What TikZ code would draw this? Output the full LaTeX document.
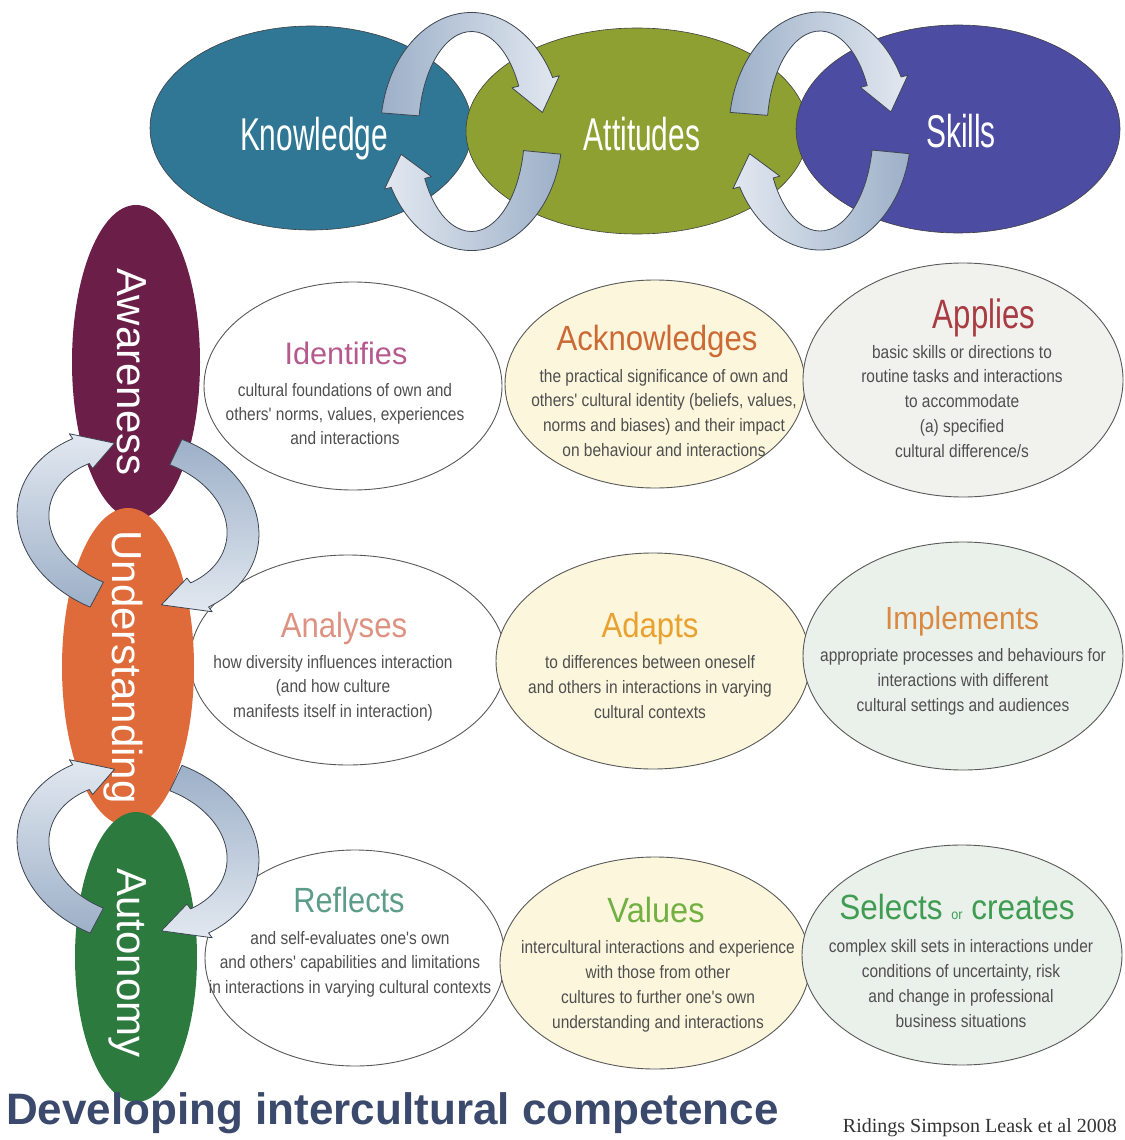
\documentclass[tikz,border=0pt]{standalone}
\usepackage{fontspec}
\usepackage{graphicx}
\setmainfont{Liberation Sans}
\newfontfamily\bodyfont[FakeStretch=0.86]{Liberation Sans}
\newfontfamily\citefont{Liberation Serif}
\usetikzlibrary{shapes.geometric}
\definecolor{knowc}{HTML}{2F7795}
\definecolor{attc}{HTML}{8EA032}
\definecolor{skillc}{HTML}{4C4CA2}
\definecolor{awc}{HTML}{6B1E47}
\definecolor{undc}{HTML}{DF6B3B}
\definecolor{autc}{HTML}{2D7A3F}
\definecolor{arrowdark}{HTML}{9DB0C8}
\definecolor{arrowlight}{HTML}{E2E8F0}
\definecolor{arrowline}{HTML}{3E4652}
\definecolor{bodyc}{HTML}{4F4F4F}
\definecolor{titlec}{HTML}{3B4A6C}
\definecolor{citec}{HTML}{333333}
\definecolor{identc}{HTML}{B65A8E}
\definecolor{ackc}{HTML}{CC6A36}
\definecolor{applc}{HTML}{A83C42}
\definecolor{analc}{HTML}{DE9282}
\definecolor{adapc}{HTML}{E9A130}
\definecolor{implc}{HTML}{D98A42}
\definecolor{reflc}{HTML}{5C9C88}
\definecolor{valc}{HTML}{72B043}
\definecolor{selc}{HTML}{3F9C52}
\definecolor{fillY}{HTML}{FBF6DC}
\definecolor{fillG}{HTML}{F1F2EE}
\definecolor{fillGG}{HTML}{EAF0EA}
\newcommand{\tbox}[3]{\fontsize{#1}{#1}\selectfont\scalebox{#2}[1]{#3}}
\newcommand{\blines}[2]{\fontsize{18}{#1}\selectfont\begin{tabular}[t]{@{}c@{}}#2\end{tabular}}
\newcommand{\cyclearrow}[8]{%
  \pgfmathsetmacro{\cyOx}{#1+#3}\pgfmathsetmacro{\cyOy}{#2+#4}%
  \pgfmathsetmacro{\cyIx}{#1-#3}\pgfmathsetmacro{\cyIy}{#2-#4}%
  \pgfmathsetmacro{\cyWOx}{#1+1.4*#3}\pgfmathsetmacro{\cyWOy}{#2+1.4*#4}%
  \pgfmathsetmacro{\cyWIx}{#1-1.4*#3}\pgfmathsetmacro{\cyWIy}{#2-1.4*#4}%
  \path[cyc, #8] (#5:{\cyOx} and {\cyOy})
    arc[start angle=#5, end angle=#6, x radius=\cyOx, y radius=\cyOy]
    -- (#6:{\cyWOx} and {\cyWOy})
    -- (#7:{#1} and {#2})
    -- (#6:{\cyWIx} and {\cyWIy})
    -- (#6:{\cyIx} and {\cyIy})
    arc[start angle=#6, end angle=#5, x radius=\cyIx, y radius=\cyIy]
    -- cycle;}
\tikzset{
  bigell/.style={ellipse, inner sep=0, draw=black!75, line width=0.6pt},
  vell/.style={ellipse, inner sep=0, draw=none},
  txtell/.style={ellipse, inner sep=0, draw=black!65, line width=0.9pt},
  cyc/.style={draw=arrowline, line width=0.8pt, line join=round},
  toplab/.style={anchor=base, inner sep=0, text=white},
  vlab/.style={anchor=base, inner sep=0, text=white, rotate=-90, font=\fontsize{42}{42}\selectfont},
  ttl/.style={anchor=base, inner sep=0},
  bodytxt/.style={anchor=base, inner sep=0, font=\bodyfont, text=bodyc},
}
\begin{document}
\begin{tikzpicture}[x=1pt, y=-1pt]
\fill[white] (0,0) rectangle (1124,1140);
\useasboundingbox (0,0) rectangle (1124,1140);

% top ellipses
\node[bigell, fill=knowc, minimum width=322, minimum height=204] (know) at (311,128) {};
\node[bigell, fill=attc, minimum width=342, minimum height=206] (att) at (637,131) {};
\node[bigell, fill=skillc, minimum width=324, minimum height=208] (skill) at (958,129) {};

% text ellipses
\node[txtell, fill=white, minimum width=298, minimum height=208] (eIdent) at (353,386) {};
\node[txtell, fill=fillY, minimum width=300, minimum height=208] (eAck) at (655,384) {};
\node[txtell, fill=fillG, minimum width=320, minimum height=234] (eAppl) at (963,380) {};
\node[txtell, fill=white, minimum width=316, minimum height=210] (eAnal) at (348,660) {};
\node[txtell, fill=fillY, minimum width=314, minimum height=216] (eAdap) at (653,661) {};
\node[txtell, fill=fillGG, minimum width=320, minimum height=228] (eImpl) at (963,656) {};
\node[txtell, fill=white, minimum width=300, minimum height=216] (eRefl) at (355,958) {};
\node[txtell, fill=fillY, minimum width=310, minimum height=212] (eVal) at (655,963) {};
\node[txtell, fill=fillGG, minimum width=320, minimum height=220] (eSel) at (962,955) {};

% vertical ellipses
\node[vell, fill=awc, minimum width=128, minimum height=314] (aware) at (136,362) {};
\node[vell, fill=undc, minimum width=132, minimum height=318] (under) at (128,667) {};
\node[vell, fill=autc, minimum width=122, minimum height=290] (auto) at (136,957) {};

% cycle arrows, top
\begin{scope}[shift={(471.5,131.5)}]
  \cyclearrow{72}{109.5}{19}{9.5}{189}{333}{350}{left color=arrowdark, right color=arrowlight}
  \cyclearrow{72}{109.5}{19}{9.5}{11}{152}{168}{left color=arrowlight, right color=arrowdark}
\end{scope}
\begin{scope}[shift={(820,131)}]
  \cyclearrow{72}{109.5}{19}{9.5}{189}{333}{350}{left color=arrowdark, right color=arrowlight}
  \cyclearrow{72}{109.5}{19}{9.5}{11}{152}{168}{left color=arrowlight, right color=arrowdark}
\end{scope}
% cycle arrows, left
\begin{scope}[shift={(138,524)}, rotate=-12]
  \cyclearrow{106}{80}{16}{14}{104}{228}{248}{top color=arrowlight, bottom color=arrowdark}
  \cyclearrow{106}{80}{16}{14}{282}{405}{428}{top color=arrowdark, bottom color=arrowlight}
\end{scope}
\begin{scope}[shift={(138,850)}, rotate=-12]
  \cyclearrow{106}{80}{16}{14}{104}{228}{248}{top color=arrowlight, bottom color=arrowdark}
  \cyclearrow{106}{80}{16}{14}{282}{405}{428}{top color=arrowdark, bottom color=arrowlight}
\end{scope}

% top labels
\node[toplab] (lKnow) at (314,150) {\tbox{46}{0.65}{Knowledge}};
\node[toplab] (lAtt) at (642,150) {\tbox{46}{0.65}{Attitudes}};
\node[toplab] (lSkill) at (961,147) {\tbox{46}{0.65}{Skills}};

% vertical labels
\node[vlab] (lAware) at (117,372) {Awareness};
\node[vlab] (lUnder) at (112,667) {Understanding};
\node[vlab] (lAuto) at (117,963) {Autonomy};

% titles and texts
\node[ttl, text=identc] (tIdent) at (346,364) {\tbox{31}{0.99}{Identifies}};
\node[bodytxt] (bIdent) at (345,396) {\blines{24}{cultural foundations of own and\\ others' norms, values, experiences\\ and interactions}};

\node[ttl, text=ackc] (tAck) at (657,350) {\tbox{35}{0.89}{Acknowledges}};
\node[bodytxt] (bAck) at (664,382) {\blines{24.7}{the practical significance of own and\\ others' cultural identity (beliefs, values,\\ norms and biases) and their impact\\ on behaviour and interactions}};

\node[ttl, text=applc] (tAppl) at (984,328) {\tbox{41}{0.76}{Applies}};
\node[bodytxt] (bAppl) at (962,358) {\blines{24.75}{basic skills or directions to\\ routine tasks and interactions\\ to accommodate\\ (a) specified\\ cultural difference/s}};

\node[ttl, text=analc] (tAnal) at (344,637) {\tbox{35}{0.89}{Analyses}};
\node[bodytxt] (bAnal) at (333,668) {\blines{24.5}{how diversity influences interaction\\ (and how culture\\ manifests itself in interaction)}};

\node[ttl, text=adapc] (tAdap) at (650,637) {\tbox{35}{0.89}{Adapts}};
\node[bodytxt] (bAdap) at (650,668) {\blines{25}{to differences between oneself\\ and others in interactions in varying\\ cultural contexts}};

\node[ttl, text=implc] (tImpl) at (962,629) {\tbox{32}{0.93}{Implements}};
\node[bodytxt] (bImpl) at (963,661) {\blines{25}{appropriate processes and behaviours for\\ interactions with different\\ cultural settings and audiences}};

\node[ttl, text=reflc] (tRefl) at (349,912) {\tbox{35}{0.88}{Reflects}};
\node[bodytxt] (bRefl) at (350,944) {\blines{24.5}{and self-evaluates one's own\\ and others' capabilities and limitations\\ in interactions in varying cultural contexts}};

\node[ttl, text=valc] (tVal) at (656,922) {\tbox{35}{0.93}{Values}};
\node[bodytxt] (bVal) at (658,953) {\blines{25}{intercultural interactions and experience\\ with those from other\\ cultures to further one's own\\ understanding and interactions}};

\node[ttl, text=selc] (tSel) at (957,919) {\tbox{35}{0.9}{Selects {\fontsize{14}{14}\selectfont or} creates}};
\node[bodytxt] (bSel) at (961,952) {\blines{25}{complex skill sets in interactions under\\ conditions of uncertainty, risk\\ and change in professional\\ business situations}};

% footer
\node[anchor=base west, inner sep=0, font=\bfseries\fontsize{44}{44}\selectfont, text=titlec] (title) at (6,1124) {Developing intercultural competence};
\node[anchor=base east, inner sep=0, font=\citefont\fontsize{20}{20}\selectfont, text=citec] (cite) at (1117,1132) {Ridings Simpson Leask et al 2008};
\end{tikzpicture}
\end{document}
